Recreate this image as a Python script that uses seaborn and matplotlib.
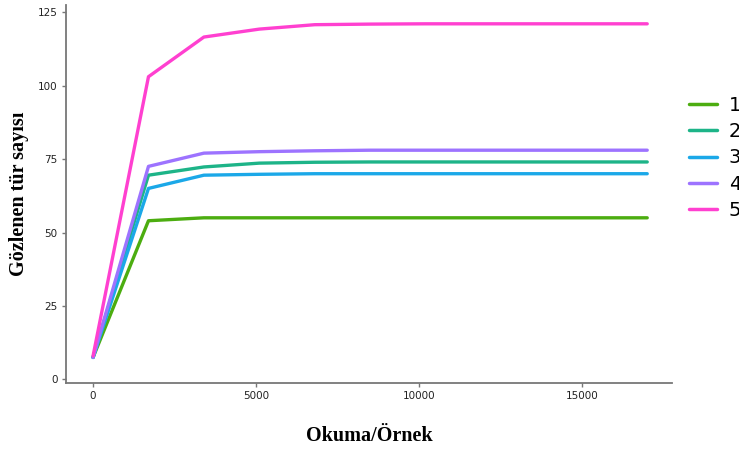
import numpy as np
import pandas as pd
import matplotlib
matplotlib.use("Agg")
import matplotlib.pyplot as plt
import seaborn as sns

reads = [0, 1700, 3400, 5100, 6800, 8500, 10200, 11900, 13600, 15300, 17000]
s1 = [7.5, 54.0, 55.0, 55.0, 55.0, 55.0, 55.0, 55.0, 55.0, 55.0, 55.0]
s2 = [7.5, 69.5, 72.3, 73.6, 73.9, 74.0, 74.0, 74.0, 74.0, 74.0, 74.0]
s3 = [7.5, 65.0, 69.5, 69.8, 70.0, 70.0, 70.0, 70.0, 70.0, 70.0, 70.0]
s4 = [7.5, 72.5, 77.0, 77.5, 77.8, 78.0, 78.0, 78.0, 78.0, 78.0, 78.0]
s5 = [8.0, 103.0, 116.5, 119.2, 120.7, 120.9, 121.0, 121.0, 121.0, 121.0, 121.0]
labels = ["1", "2", "3", "4", "5"]
colors = ["#4CAD10", "#1DB488", "#1BA8E8", "#9D73FF", "#FF40D0"]

series = [s1, s2, s3, s4, s5]
df = pd.concat([pd.DataFrame({"x": reads, "y": s, "g": lab}) for s, lab in zip(series, labels)])

sns.set_style("white")
fig = plt.figure(figsize=(7.39, 4.5), dpi=100)
ax = fig.add_axes([66/739, 1 - 383/450, (672-66)/739, (383-5)/450])
sns.lineplot(data=df, x="x", y="y", hue="g", palette=dict(zip(labels, colors)),
             linewidth=2.4, ax=ax, legend=True)

ax.set_xlim(-830, 17760)
ax.set_ylim(-1.2, 127.4)
ax.set_xticks([0, 5000, 10000, 15000])
ax.set_yticks([0, 25, 50, 75, 100, 125])
ax.tick_params(axis="both", labelsize=7.5, color="#777777", length=3, width=1, direction="out",
               bottom=True, left=True, labelcolor="#222222", pad=3)
for side in ["top", "right"]:
    ax.spines[side].set_visible(False)
for side in ["left", "bottom"]:
    ax.spines[side].set_color("#777777")
    ax.spines[side].set_linewidth(1.3)

ax.set_xlabel("Okuma/Örnek", family="Liberation Serif", fontweight="bold", fontsize=14.5,
              labelpad=18, color="black")
ax.set_ylabel("Gözlenen tür sayısı", family="Liberation Serif", fontweight="bold", fontsize=14.5,
              labelpad=6, color="black")

leg = ax.legend(loc="upper left", bbox_to_anchor=(689/739, 1 - 96/450), bbox_transform=fig.transFigure,
                frameon=False, fontsize=14, handlelength=1.45, labelspacing=0.37, handletextpad=0.6,
                borderaxespad=0, borderpad=0)
for h in leg.get_lines():
    h.set_linewidth(2.5)
for t in leg.get_texts():
    t.set_color("black")

fig.savefig("out.png", dpi=100)
